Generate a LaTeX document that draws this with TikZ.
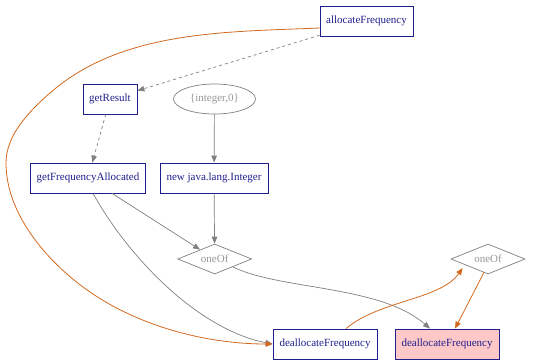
\documentclass[tikz,border=0pt]{standalone}
\usepackage{fontspec}
\setmainfont{Liberation Serif}
\usetikzlibrary{shapes.geometric,arrows.meta,calc}
\definecolor{boxblue}{RGB}{30,30,140}
\definecolor{edgegray}{RGB}{128,128,128}
\definecolor{labelgray}{RGB}{150,150,150}
\definecolor{callorange}{RGB}{210,105,30}
\definecolor{hlpink}{RGB}{255,200,200}
\begin{document}
\begin{tikzpicture}[x=1pt,y=-1pt,
  method/.style={draw=boxblue,line width=0.8pt,text=boxblue,rectangle,
    minimum height=30pt,inner sep=0pt,font=\fontsize{11}{13}\selectfont},
  value/.style={draw=edgegray,line width=0.7pt,text=labelgray,ellipse,
    minimum width=82pt,minimum height=30pt,inner sep=0pt,font=\fontsize{11}{13}\selectfont},
  choice/.style={draw=edgegray,line width=0.7pt,text=labelgray,diamond,aspect=2.5,
    minimum width=74pt,minimum height=30pt,inner sep=0pt,font=\fontsize{11}{13}\selectfont},
  tip/.style={-{Triangle[length=7pt,width=5.5pt]}},
  dataflow/.style={tip,draw=edgegray,line width=0.7pt},
  depflow/.style={tip,draw=edgegray,line width=0.7pt,dashed},
  callflow/.style={draw=callorange,line width=0.8pt,
    -{Triangle[length=7pt,width=5.5pt,fill=callorange]}}
]
\useasboundingbox (0,0) rectangle (540,360);

% nodes
\node[method,minimum width=93pt] (alloc) at (366.5,21) {allocateFrequency};
\node[method,minimum width=54pt] (getres) at (110,99) {getResult};
\node[value] (intval) at (214.5,99) {\{integer,0\}};
\node[method,minimum width=115pt] (getfa) at (88,178) {getFrequencyAllocated};
\node[method,minimum width=108pt] (newint) at (214,178) {new java.lang.Integer};
\node[choice] (oneA) at (214.7,259) {oneOf};
\node[choice] (oneB) at (488,259) {oneOf};
\node[method,minimum width=104pt] (deallocA) at (325,344) {deallocateFrequency};
\node[method,minimum width=104pt,fill=hlpink] (deallocB) at (447,344) {deallocateFrequency};

% dependency edges
\draw[depflow] (alloc) -- (getres);
\draw[depflow] (getres) -- (getfa);

% data edges
\draw[dataflow] (intval) -- (newint);
\draw[dataflow] (newint) -- (oneA);
\draw[dataflow] (getfa) -- (oneA);
\draw[dataflow] ($(getfa.south)+(5,0)$) .. controls (130,260) and (200,330) .. (deallocA.west);
\draw[dataflow] ($(oneA.east)+(-19,8)$) .. controls (280,290) and (380,285) .. ($(deallocB.north)+(-17,0)$);

% call edges: the long one loops round the left side of the picture
\draw[callflow] ($(alloc.west)+(0,7)$) .. controls (225,32) and (121.5,30.4) .. (50,93)
  .. controls (28.9,111.5) and (6,135) .. (6,163)
  .. controls (6,212) and (43.7,257.7) .. (83,287)
  .. controls (136,326.4) and (207,344) .. (deallocA.west);
\draw[callflow] ($(deallocA.north)+(21,0)$) .. controls (380,300) and (440,300) .. ($(oneB.west)+(12,9)$);
\draw[callflow] ($(oneB.south)+(-4,-2)$) -- ($(deallocB.north)+(8,0)$);
\end{tikzpicture}
\end{document}
